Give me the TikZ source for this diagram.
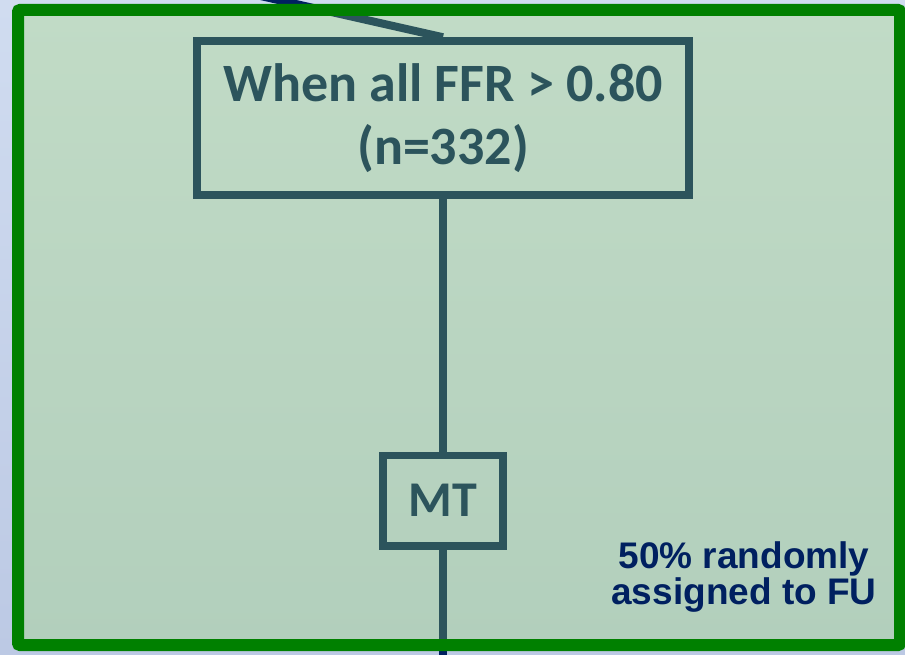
\documentclass[tikz,border=0pt]{standalone}
\usepackage{fontspec}
\newfontfamily\boxfont{Carlito}
\newfontfamily\notefont{Liberation Sans}
\definecolor{bgtop}{RGB}{208,220,240}
\definecolor{bgbot}{RGB}{188,201,228}
\definecolor{paneltop}{RGB}{193,219,198}
\definecolor{panelbot}{RGB}{178,207,188}
\definecolor{framegreen}{RGB}{0,128,0}
\definecolor{teal}{RGB}{44,84,92}
\definecolor{navy}{RGB}{0,32,96}
\pgfdeclarelayer{pagebg}
\pgfdeclarelayer{outer}
\pgfdeclarelayer{panel}
\pgfdeclarelayer{front}
\pgfsetlayers{pagebg,outer,panel,main,front}
\tikzset{
  flowbox/.style={draw=teal, line width=7.5pt, rectangle, inner sep=0pt,
    text=teal, align=center},
  link/.style={line width=8pt},
}
\begin{document}
\begin{tikzpicture}[x=1pt,y=1pt]
\useasboundingbox (0,0) rectangle (905,-655);

% flow boxes
\node[flowbox, minimum width=492pt, minimum height=154pt,
      font=\boxfont\bfseries\fontsize{54}{63}\selectfont] (ffr) at (443,-118)
  {When all FFR > 0.80\\(n=332)};
\node[flowbox, minimum width=120pt, minimum height=90.5pt,
      font=\boxfont\bfseries\fontsize{50}{60}\selectfont] (mt) at (443,-500.75) {MT};
\coordinate (intop) at (245,7.5);
\coordinate (inbot) at (443,-670);

% page background
\begin{pgfonlayer}{pagebg}
  \shade[top color=bgtop, bottom color=bgbot] (0,0) rectangle (905,-655);
\end{pgfonlayer}

% connectors entering and leaving the panel
\begin{pgfonlayer}{outer}
  \draw[link, navy] (intop) -- (ffr.north);
  \draw[link, navy] (mt.south) -- (inbot);
\end{pgfonlayer}

% panel fill
\begin{pgfonlayer}{panel}
  \shade[top color=paneltop, bottom color=panelbot, rounded corners=2pt]
    (18,-10) rectangle (900,-645);
\end{pgfonlayer}

% the same connectors inside the panel
\begin{scope}
  \clip (18,-10) rectangle (900,-645);
  \draw[link, teal] (intop) -- (ffr.north);
  \draw[link, teal] (mt.south) -- (inbot);
\end{scope}
\draw[link, teal] (ffr.south) -- (mt.north);

% panel frame
\begin{pgfonlayer}{front}
  \draw[framegreen, line width=12pt, rounded corners=2pt] (18,-10) rectangle (900,-645);
\end{pgfonlayer}

\node[text=navy, font=\notefont\bfseries\fontsize{37}{36}\selectfont, align=center]
  (note) at (744,-577.5) {50\% randomly\\assigned to FU};
\end{tikzpicture}
\end{document}
